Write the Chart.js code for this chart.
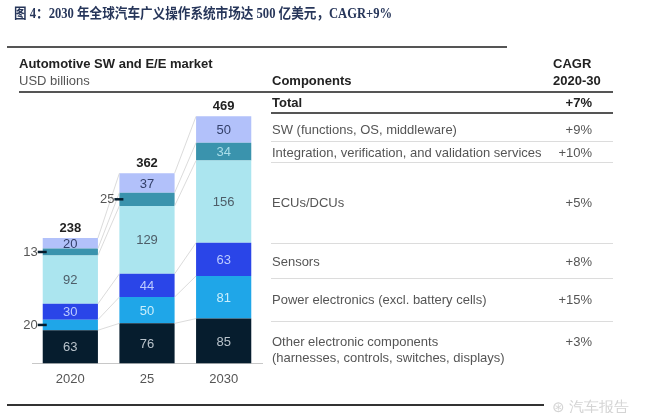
<!DOCTYPE html>
<html>
<head>
<meta charset="utf-8">
<script src="https://cdn.jsdelivr.net/npm/chart.js@4/dist/chart.umd.min.js"></script>
<style>
  body { margin: 0; background: #fff; }
  #wrap { position: relative; width: 648px; height: 413px; overflow: hidden; font-family: "Liberation Sans", Arial, sans-serif; }
  #chart { position: absolute; left: 0; top: 0; }
  .t { position: absolute; white-space: nowrap; font-size: 13px; line-height: 16px; color: #555; }
  .b { font-weight: bold; color: #222; }
  .line { position: absolute; height: 0; }
  #title { position: absolute; left: 14px; top: 2px; font: bold 14px "Liberation Serif", "Noto Sans CJK SC", serif; color: #27365a; white-space: nowrap; transform: scaleX(0.9); transform-origin: left top; }
</style>
</head>
<body>
<div id="wrap">
  <canvas id="chart" width="280" height="413"></canvas>

  <div id="title">图 4：2030 年全球汽车广义操作系统市场达 500 亿美元，CAGR+9%</div>
  <div class="line" style="left:7px; top:46px; width:500px; border-top:2px solid #555;"></div>

  <div class="t b" style="left:19px; top:56px;">Automotive SW and E/E market</div>
  <div class="t" style="left:19px; top:73px;">USD billions</div>
  <div class="t b" style="left:272px; top:73px;">Components</div>
  <div class="t b" style="left:553px; top:56px;">CAGR</div>
  <div class="t b" style="left:553px; top:73px;">2020-30</div>
  <div class="line" style="left:19px; top:91px; width:594px; border-top:2px solid #555;"></div>

  <div id="table"></div>

  <div class="line" style="left:7px; top:404px; width:537px; border-top:2px solid #333;"></div>
  <div class="t" style="left:552px; top:399px; font-size:15px; color:#d4d4d4;">⊛ 汽车报告</div>
</div>

<script>
// chart values (USD billions)
const years = ['2020', '25', '2030'];
const otherElectronic = [63, 76, 85];
const powerElectronics = [20, 50, 81];
const sensors = [30, 44, 63];
const ecus = [92, 129, 156];
const integration = [13, 25, 34];
const software = [20, 37, 50];
const totals = [238, 362, 469];

// table on the right
const components = [
    'SW (functions, OS, middleware)',
    'Integration, verification, and validation services',
    'ECUs/DCUs',
    'Sensors',
    'Power electronics (excl. battery cells)',
    'Other electronic components\n(harnesses, controls, switches, displays)'
];
const cagr = ['+9%', '+10%', '+5%', '+8%', '+15%', '+3%'];
const totalCagr = '+7%';

// table layout: row text centre and line under row
const rowY = [130, 153, 203, 262, 300, 342];
const rowLine = [141, 162, 243, 278, 321, null];

const table = document.getElementById('table');
function addText(txt, x, y, cls, right) {
    const lines = txt.split('\n');
    lines.forEach(function(s, k) {
        const d = document.createElement('div');
        d.className = 't ' + (cls || '');
        d.textContent = s;
        d.style.top = (y - 8 + k * 16) + 'px';
        if (right) { d.style.right = (648 - x) + 'px'; } else { d.style.left = x + 'px'; }
        table.appendChild(d);
    });
}
function addLine(y, w, color, x) {
    const d = document.createElement('div');
    d.className = 'line';
    d.style.left = (x || 271) + 'px';
    d.style.top = y + 'px';
    d.style.width = (w || 342) + 'px';
    d.style.borderTop = color;
    table.appendChild(d);
}
addText('Total', 272, 103, 'b');
addText(totalCagr, 592, 103, 'b', true);
addLine(112, 342, '2px solid #555');
components.forEach(function(c, i) {
    addText(c, 272, rowY[i]);
    addText(cagr[i], 592, rowY[i], '', true);
    if (rowLine[i]) addLine(rowLine[i], 342, '1px solid #dcdcdc');
});

// which small segments get their label outside, by dataset index -> bar indexes
const outsideLabels = { 1: [0], 4: [0, 1] };

const barDecor = {
    id: 'barDecor',
    afterDatasetsDraw(chart) {
        const ctx = chart.ctx;
        const n = chart.data.datasets.length;
        ctx.save();

        // connector lines between segment tops
        ctx.strokeStyle = '#d2d2d2';
        ctx.lineWidth = 0.8;
        for (let i = 0; i < n; i++) {
            const bars = chart.getDatasetMeta(i).data;
            for (let j = 0; j < bars.length - 1; j++) {
                const a = bars[j], b = bars[j + 1];
                ctx.beginPath();
                ctx.moveTo(a.x + a.width / 2, a.y);
                ctx.lineTo(b.x - b.width / 2, b.y);
                ctx.stroke();
            }
        }

        // values
        ctx.font = '13px "Liberation Sans", Arial, sans-serif';
        ctx.textBaseline = 'middle';
        for (let i = 0; i < n; i++) {
            const ds = chart.data.datasets[i];
            const bars = chart.getDatasetMeta(i).data;
            bars.forEach(function(bar, j) {
                const mid = (bar.y + bar.base) / 2;
                const out = outsideLabels[i] && outsideLabels[i].indexOf(j) >= 0;
                if (out) {
                    const left = bar.x - bar.width / 2;
                    ctx.strokeStyle = '#051c2c';
                    ctx.lineWidth = 2.5;
                    ctx.beginPath();
                    ctx.moveTo(left - 5, mid);
                    ctx.lineTo(left + 4, mid);
                    ctx.stroke();
                    ctx.fillStyle = '#555';
                    ctx.textAlign = 'right';
                    ctx.fillText(ds.data[j], left - 5, mid);
                } else {
                    ctx.fillStyle = ds.labelColor;
                    ctx.textAlign = 'center';
                    ctx.fillText(ds.data[j], bar.x, mid + 1);
                }
            });
        }

        // totals above the bars
        const top = chart.getDatasetMeta(n - 1).data;
        ctx.font = 'bold 13px "Liberation Sans", Arial, sans-serif';
        ctx.fillStyle = '#222';
        ctx.textAlign = 'center';
        top.forEach(function(bar, j) {
            ctx.fillText(totals[j], bar.x, bar.y - 10);
        });
        ctx.restore();
    }
};

new Chart(document.getElementById('chart'), {
    type: 'bar',
    data: {
        labels: years,
        datasets: [
            { label: 'Other electronic components', data: otherElectronic, backgroundColor: '#061d2e', labelColor: '#b9c3cb' },
            { label: 'Power electronics', data: powerElectronics, backgroundColor: '#1fa6e8', labelColor: '#c9eefc' },
            { label: 'Sensors', data: sensors, backgroundColor: '#2a45e8', labelColor: '#bccbff' },
            { label: 'ECUs/DCUs', data: ecus, backgroundColor: '#abe5ef', labelColor: '#4d5d68' },
            { label: 'Integration', data: integration, backgroundColor: '#3a93ad', labelColor: '#a9dde9' },
            { label: 'SW', data: software, backgroundColor: '#b2c1fa', labelColor: '#34406a' }
        ]
    },
    options: {
        responsive: false,
        animation: false,
        devicePixelRatio: 1,
        layout: { padding: { left: 32, right: 18, top: 100, bottom: 26 } },
        datasets: { bar: { barPercentage: 1, categoryPercentage: 0.72, borderWidth: 0 } },
        scales: {
            x: {
                stacked: true,
                grid: { display: false },
                border: { display: true, color: '#c8c8c8', width: 1 },
                ticks: { color: '#555', font: { size: 13, family: '"Liberation Sans", Arial, sans-serif' }, padding: 0 }
            },
            y: { stacked: true, display: false, min: 0, max: 500 }
        },
        plugins: {
            legend: { display: false },
            tooltip: { enabled: false }
        }
    },
    plugins: [barDecor]
});
</script>
</body>
</html>
